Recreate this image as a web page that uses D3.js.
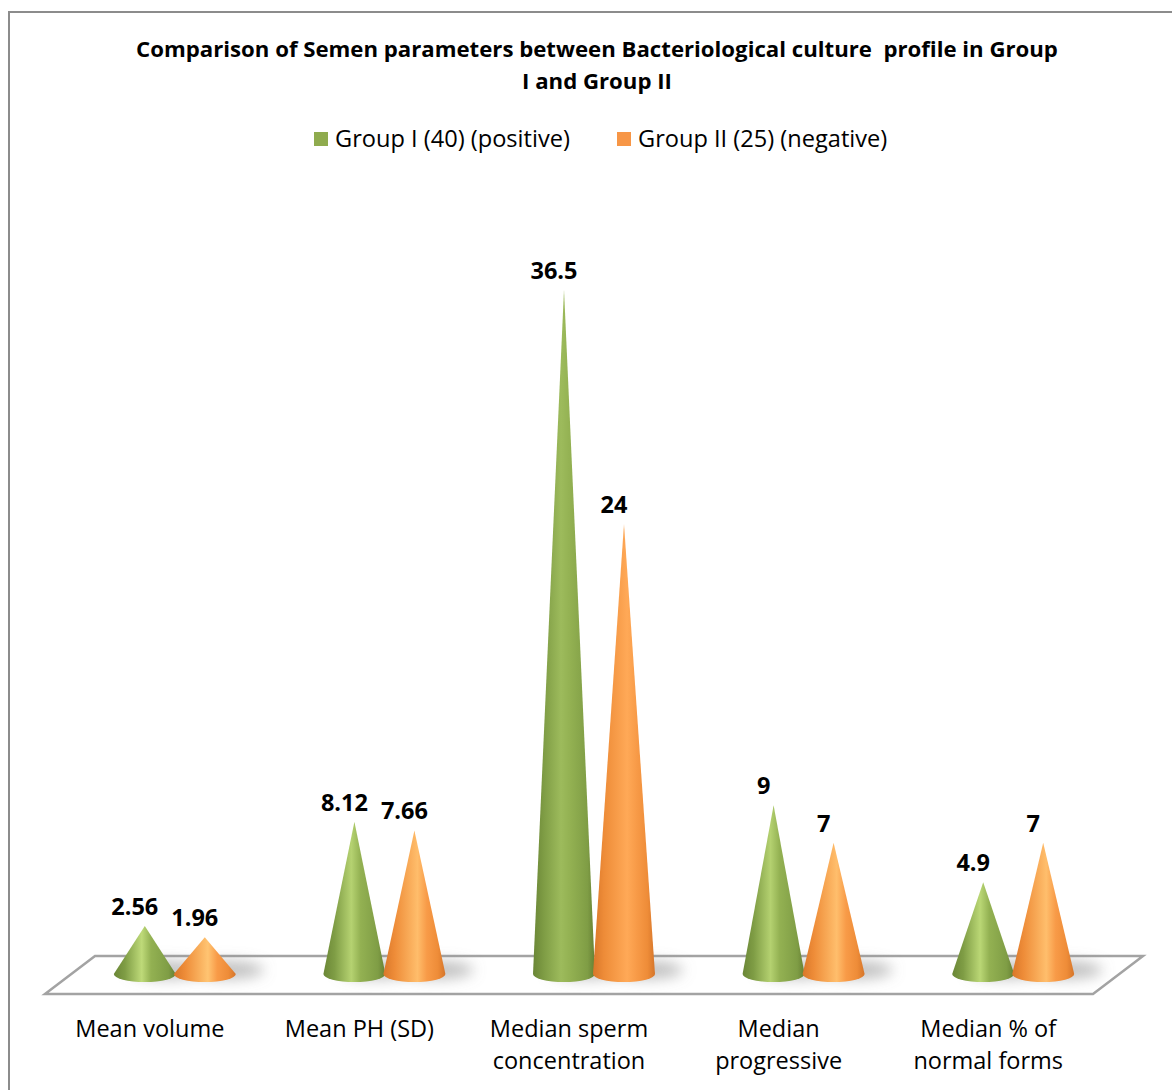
<!DOCTYPE html>
<html>
<head>
<meta charset="utf-8">
<script src="https://cdn.jsdelivr.net/npm/d3@7/dist/d3.min.js"></script>
<style>
  html, body { margin: 0; padding: 0; background: #ffffff; }
  text { font-family: "Open Sans", Lato, "Liberation Sans", sans-serif; fill: #000; }
</style>
</head>
<body>
<svg id="chart" width="1172" height="1090"></svg>
<script>
// Semen parameters by bacteriological culture profile
const categories = [
  ["Mean volume"],
  ["Mean PH (SD)"],
  ["Median sperm", "concentration"],
  ["Median", "progressive"],
  ["Median % of", "normal forms"]
];
const seriesNames = ["Group I (40) (positive)", "Group II (25) (negative)"];
const groupI = [2.56, 8.12, 36.5, 9, 4.9];
const groupII = [1.96, 7.66, 24, 7, 7];
const valueLabels = [
  ["2.56", "8.12", "36.5", "9", "4.9"],
  ["1.96", "7.66", "24", "7", "7"]
];
const titleLines = [
  "Comparison of Semen parameters between Bacteriological culture  profile in Group",
  "I and Group II"
];

const svg = d3.select("#chart");
const W = 1172, H = 1090;
const catKeys = categories.map((c, i) => "c" + i);
const series = [groupI, groupII];

svg.append("rect").attr("width", W).attr("height", H).attr("fill", "#fff");

// chart area border
svg.append("path")
  .attr("d", "M9,1090 V12 H1172")
  .attr("fill", "none").attr("stroke", "#8c8c8c").attr("stroke-width", 2);

// title
svg.append("g").selectAll("text").data(titleLines).join("text")
  .attr("x", 597).attr("y", (d, i) => 57 + i * 32)
  .attr("text-anchor", "middle")
  .attr("font-size", 22.2).attr("font-weight", "bold")
  .attr("xml:space", "preserve")
  .text(d => d);

const defs = svg.append("defs");
defs.append("filter").attr("id", "soft")
  .attr("x", "-50%").attr("y", "-100%").attr("width", "200%").attr("height", "300%")
  .append("feGaussianBlur").attr("stdDeviation", 7);

// legend
const legendColors = ["#8fab4e", "#f79646"];
const legendX = [314, 617];
const legend = svg.append("g").selectAll("g").data(seriesNames).join("g")
  .attr("transform", (d, i) => `translate(${legendX[i]},0)`);
legend.append("rect").attr("x", 0).attr("y", 132).attr("width", 14).attr("height", 14)
  .attr("fill", (d, i) => legendColors[i]);
legend.append("text").attr("x", 21).attr("y", 147).attr("font-size", 23.6).text(d => d);

// floor parallelogram
const floorTop = 956, floorBottom = 994, depthShift = 50;
const frontLeft = 45, frontRight = 1093;
svg.append("polygon")
  .attr("points", [
    [frontLeft + depthShift, floorTop], [frontRight + depthShift, floorTop],
    [frontRight, floorBottom], [frontLeft, floorBottom]
  ].map(p => p.join(",")).join(" "))
  .attr("fill", "#fff").attr("stroke", "#a3a3a3").attr("stroke-width", 2.5);

// scales
const xFront = d3.scaleBand().domain(catKeys).range([frontLeft, frontRight]);
const xMid = d3.scaleBand().domain(catKeys).range([frontLeft + depthShift / 2, frontRight + depthShift / 2]);
const xSeries = d3.scaleBand().domain([0, 1]).range([-60, 60]);
const y = d3.scaleLinear().domain([0, 40]).range([974, 224]);
const rx = 31, ry = 8;

const cones = [];
catKeys.forEach((k, ci) => {
  series.forEach((vals, s) => {
    cones.push({
      k, ci, s, v: vals[ci], label: valueLabels[s][ci],
      cx: xMid(k) + xMid.bandwidth() / 2 + xSeries(s) + xSeries.bandwidth() / 2
    });
  });
});

// cone shading: steep cones catch less light than squat ones
const shade = [
  { edgeL: "#6a8636", mid: "#7f9d45", hiShort: "#c2de7c", hiTall: "#9dbb5c", after: "#93b152", edgeR: "#667f33", hiPos: 0.45 },
  { edgeL: "#d9772a", mid: "#ee8c38", hiShort: "#ffc674", hiTall: "#ffa957", after: "#f89b48", edgeR: "#d5752a", hiPos: 0.55 }
];
cones.forEach((d, i) => {
  const p = shade[d.s];
  const t = Math.min(1, (y(0) - y(d.v)) / 450);
  const hi = d3.interpolateRgb(p.hiShort, p.hiTall)(t);
  const g = defs.append("linearGradient").attr("id", "cone" + i)
    .attr("x1", 0).attr("x2", 1).attr("y1", 0).attr("y2", 0);
  [[0, p.edgeL], [0.18, p.mid], [p.hiPos, hi], [p.hiPos + 0.15, p.after], [0.88, p.mid], [1, p.edgeR]]
    .forEach(([o, c]) => g.append("stop").attr("offset", o).attr("stop-color", c));
  d.grad = "cone" + i;
});

// soft shadows on the floor
svg.append("g").attr("filter", "url(#soft)").selectAll("ellipse").data(cones).join("ellipse")
  .attr("cx", d => d.cx + 22).attr("cy", y(0) - 4)
  .attr("rx", d => rx + 6).attr("ry", 9)
  .attr("fill", "#8a8a8a").attr("opacity", 0.55);

// cones
svg.append("g").selectAll("path").data(cones).join("path")
  .attr("d", d => {
    const b = y(0), t = y(d.v);
    return `M${d.cx - rx},${b} L${d.cx},${t} L${d.cx + rx},${b} A${rx},${ry} 0 0 1 ${d.cx - rx},${b} Z`;
  })
  .attr("fill", d => `url(#${d.grad})`);

// value labels
svg.append("g").selectAll("text").data(cones).join("text")
  .attr("x", d => d.cx - 10).attr("y", d => y(d.v) - 11)
  .attr("text-anchor", "middle").attr("font-size", 23.5).attr("font-weight", "bold")
  .text(d => d.label);

// category labels
const catG = svg.append("g").selectAll("text").data(categories).join("text")
  .attr("text-anchor", "middle").attr("font-size", 23.5)
  .attr("transform", (d, i) => `translate(${xFront(catKeys[i]) + xFront.bandwidth() / 2},0)`);
catG.selectAll("tspan").data(d => d).join("tspan")
  .attr("x", 0).attr("y", (d, i) => 1037 + i * 32)
  .text(d => d);
</script>
</body>
</html>
